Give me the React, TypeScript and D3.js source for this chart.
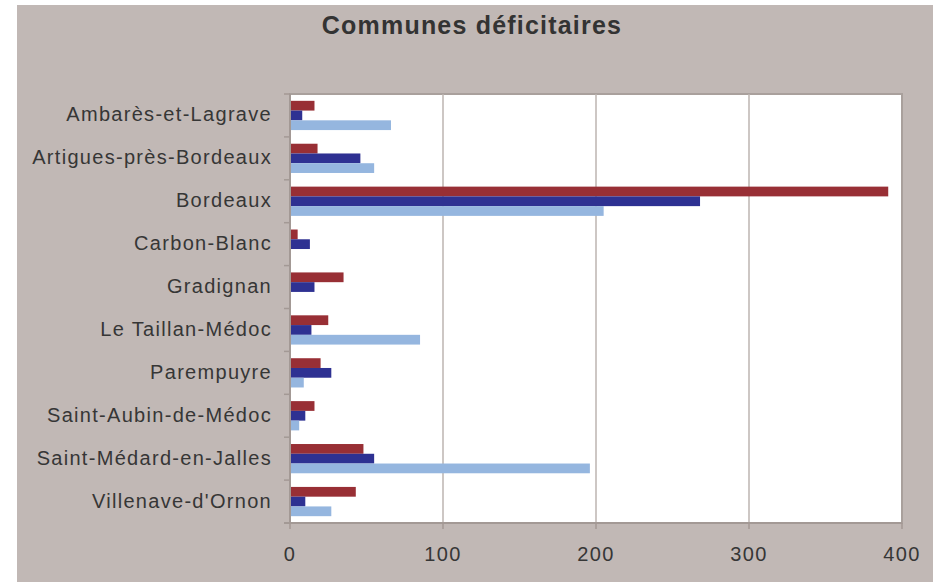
import { useRef, useEffect } from 'react';
import * as d3 from 'd3';

// communes shown on the vertical axis, top to bottom
const communes = [
  'Ambarès-et-Lagrave',
  'Artigues-près-Bordeaux',
  'Bordeaux',
  'Carbon-Blanc',
  'Gradignan',
  'Le Taillan-Médoc',
  'Parempuyre',
  'Saint-Aubin-de-Médoc',
  'Saint-Médard-en-Jalles',
  "Villenave-d'Ornon",
];

// three series, drawn top (red) to bottom (light blue) inside each commune
const serieRouge = [16, 18, 391, 5, 35, 25, 20, 16, 48, 43];
const serieBleu = [8, 46, 268, 13, 16, 14, 27, 10, 55, 10];
const serieBleuClair = [66, 55, 205, 0, 0, 85, 9, 6, 196, 27];

const xTicks = [0, 100, 200, 300, 400];

const seriesKeys = ['rouge', 'bleu', 'bleuClair'];
const colors: Record<string, string> = {
  rouge: '#982f35',
  bleu: '#2e3192',
  bleuClair: '#95b6df',
};

const App = () => {
  const ref = useRef<SVGSVGElement>(null);

  useEffect(() => {
    const width = 933;
    const height = 582;
    const margin = { top: 94, right: 31, bottom: 59, left: 290 };

    const data = communes.map((c, i) => ({
      commune: c,
      rouge: serieRouge[i],
      bleu: serieBleu[i],
      bleuClair: serieBleuClair[i],
    }));

    const svg = d3.select(ref.current);
    svg.selectAll('*').remove();
    svg.attr('width', width).attr('height', height);

    // chart background
    svg.append('rect')
      .attr('x', 17)
      .attr('y', 5)
      .attr('width', width - 17)
      .attr('height', height - 5)
      .attr('fill', '#c1b8b5');

    const x = d3.scaleLinear()
      .domain([0, 400])
      .range([margin.left, width - margin.right]);

    const y = d3.scaleBand()
      .domain(communes)
      .range([margin.top, height - margin.bottom])
      .padding(0);

    const ySub = d3.scaleBand()
      .domain(seriesKeys)
      .range([0, y.bandwidth()])
      .paddingInner(0)
      .paddingOuter(0.7);

    // plot area
    svg.append('rect')
      .attr('x', x(0))
      .attr('y', margin.top)
      .attr('width', x(400) - x(0))
      .attr('height', height - margin.bottom - margin.top)
      .attr('fill', '#ffffff')
      .attr('stroke', '#a9a09c')
      .attr('stroke-width', 2);

    // vertical gridlines
    svg.append('g')
      .selectAll('line')
      .data(xTicks.filter(t => t > 0 && t < 400))
      .enter().append('line')
      .attr('x1', d => x(d))
      .attr('x2', d => x(d))
      .attr('y1', margin.top)
      .attr('y2', height - margin.bottom)
      .attr('stroke', '#bdb4b0')
      .attr('stroke-width', 1.5);

    // bars
    const groups = svg.append('g')
      .selectAll('g')
      .data(data)
      .enter().append('g')
      .attr('transform', d => `translate(0, ${y(d.commune)})`);

    groups.selectAll('rect')
      .data(d => seriesKeys.map(k => ({ key: k, value: (d as any)[k] as number })))
      .enter().append('rect')
      .attr('x', x(0))
      .attr('y', d => ySub(d.key)!)
      .attr('width', d => x(d.value) - x(0))
      .attr('height', ySub.bandwidth())
      .attr('fill', d => colors[d.key]);

    const axisColor = '#a39995';
    const textColor = '#363636';
    const font = '"Liberation Sans", Arial, sans-serif';

    // left axis line and ticks at category boundaries
    svg.append('line')
      .attr('x1', x(0))
      .attr('x2', x(0))
      .attr('y1', margin.top)
      .attr('y2', height - margin.bottom)
      .attr('stroke', axisColor)
      .attr('stroke-width', 2);

    const boundaries = communes.map(c => y(c)!).concat([height - margin.bottom]);
    svg.append('g')
      .selectAll('line')
      .data(boundaries)
      .enter().append('line')
      .attr('x1', x(0) - 6)
      .attr('x2', x(0))
      .attr('y1', d => d)
      .attr('y2', d => d)
      .attr('stroke', axisColor)
      .attr('stroke-width', 1.5);

    // bottom axis line and ticks
    svg.append('line')
      .attr('x1', x(0) - 6)
      .attr('x2', x(400))
      .attr('y1', height - margin.bottom)
      .attr('y2', height - margin.bottom)
      .attr('stroke', axisColor)
      .attr('stroke-width', 2);

    svg.append('g')
      .selectAll('line')
      .data(xTicks)
      .enter().append('line')
      .attr('x1', d => x(d))
      .attr('x2', d => x(d))
      .attr('y1', height - margin.bottom)
      .attr('y2', height - margin.bottom + 6)
      .attr('stroke', axisColor)
      .attr('stroke-width', 1.5);

    // category labels
    svg.append('g')
      .selectAll('text')
      .data(communes)
      .enter().append('text')
      .attr('x', 272)
      .attr('y', d => y(d)! + y.bandwidth() / 2)
      .attr('dy', '0.3em')
      .attr('text-anchor', 'end')
      .attr('font-family', font)
      .attr('font-size', '20px')
      .attr('letter-spacing', '1.3px')
      .attr('fill', textColor)
      .text(d => d);

    // value labels
    svg.append('g')
      .selectAll('text')
      .data(xTicks)
      .enter().append('text')
      .attr('x', d => x(d))
      .attr('y', 561)
      .attr('text-anchor', 'middle')
      .attr('font-family', font)
      .attr('font-size', '20px')
      .attr('letter-spacing', '1.3px')
      .attr('fill', textColor)
      .text(d => d);

    // title
    svg.append('text')
      .attr('x', 472)
      .attr('y', 34)
      .attr('text-anchor', 'middle')
      .attr('font-family', font)
      .attr('font-weight', 'bold')
      .attr('font-size', '25px')
      .attr('letter-spacing', '1.2px')
      .attr('fill', '#333333')
      .text('Communes déficitaires');
  }, []);

  return (
    <svg ref={ref} style={{ position: 'absolute', left: 0, top: 0 }}></svg>
  );
};

export default App;
